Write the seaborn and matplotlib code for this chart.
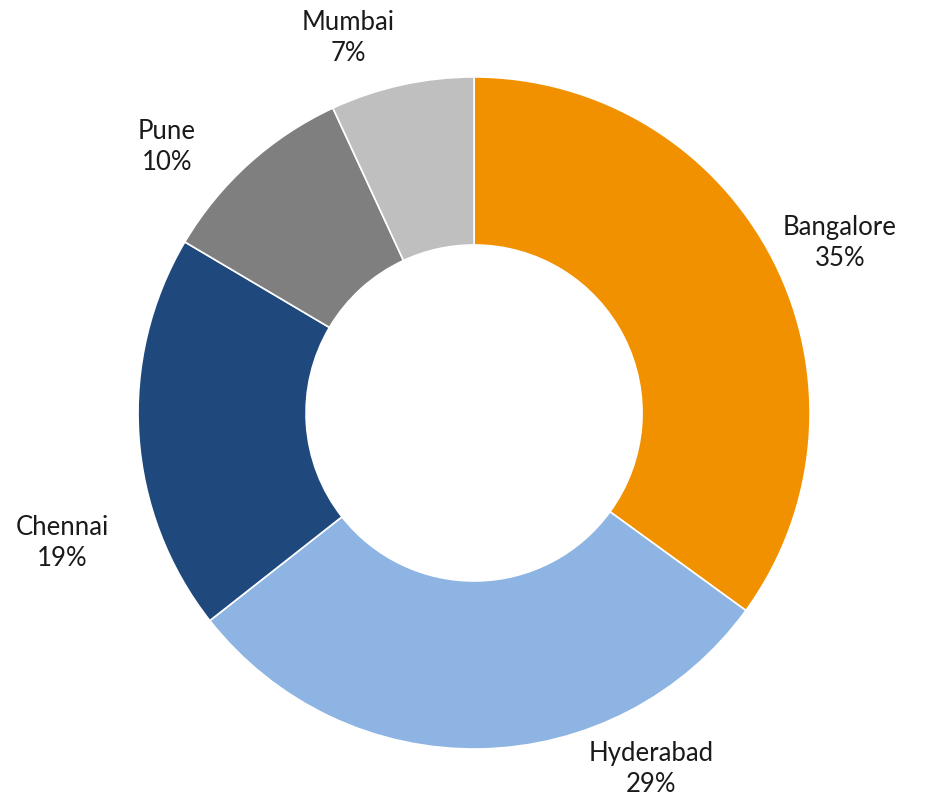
import matplotlib
matplotlib.use("Agg")
from matplotlib import pyplot as plt
import seaborn as sns

cities = ["Bangalore", "Hyderabad", "Chennai", "Pune", "Mumbai"]
shares = [35.0, 29.4, 19.1, 9.6, 6.9]
pct_labels = [35, 29, 19, 10, 7]
colors = ["#F29100", "#8EB4E3", "#1F497D", "#7F7F7F", "#BFBFBF"]

sns.set_theme(style="white")
plt.rcParams['font.family'] = ['Lato', 'DejaVu Sans']

fig = plt.figure(figsize=(9.39, 8.03), dpi=100)
# axes sized so that the pie radius (1.0) is ~336 px, centred at (474, 414)
ax = fig.add_axes([0.147, 0.066, 0.7157, 0.8369])

labels = [f"{c}\n{v}%" for c, v in zip(cities, pct_labels)]
wedges, texts = ax.pie(shares, colors=sns.color_palette(colors), startangle=90,
                       counterclock=False, radius=1.0,
                       wedgeprops=dict(width=0.5, edgecolor="white", linewidth=1.2),
                       labels=labels, labeldistance=1.2,
                       textprops=dict(fontsize=18.5, color="#1a1a1a", linespacing=1.3))

# Excel-style "best fit" label spots (layout only)
label_pos = [(1.089, 0.509), (0.527, -1.058), (-1.226, -0.384), (-0.914, 0.795), (-0.375, 1.119)]
for t, p in zip(texts, label_pos):
    t.set_position(p)
    t.set_ha("center")
    t.set_va("center")

ax.set_xlim(-1, 1)
ax.set_ylim(-1, 1)
ax.set_aspect("equal")
ax.axis("off")

fig.savefig("out.png", dpi=100)
